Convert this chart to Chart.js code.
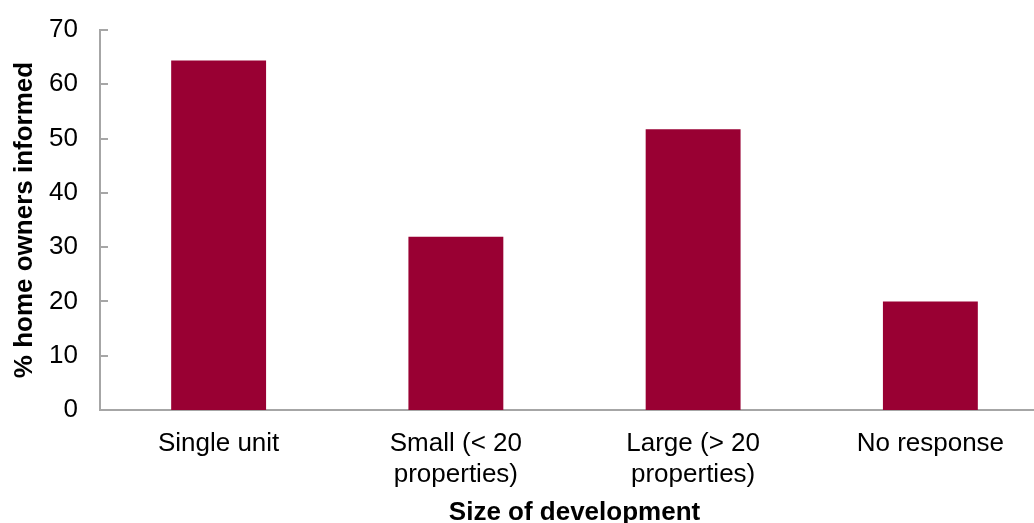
<!DOCTYPE html>
<html>
<head>
<meta charset="utf-8">
<script src="https://cdn.jsdelivr.net/npm/chart.js@4/dist/chart.umd.min.js"></script>
<style>
  html, body { margin: 0; padding: 0; background: #fff; overflow: hidden; }
  #wrap { width: 1034px; height: 523px; overflow: hidden; }
</style>
</head>
<body>
<div id="wrap"><canvas id="chart" width="1050" height="528"></canvas></div>
<script>
  "use strict";

  const categories = ["Single unit", ["Small (< 20", "properties)"], ["Large (> 20", "properties)"], "No response"];
  const informed = [64.4, 31.9, 51.7, 20.0];
  const yTicks = [0, 10, 20, 30, 40, 50, 60, 70];

  const FONT = "'Liberation Sans', Arial, sans-serif";
  const AXIS = "#a6a6a6";

  // tick marks drawn on the inside of the value axis
  const innerTicks = {
    id: "innerTicks",
    afterDraw(chart) {
      const y = chart.scales.y;
      const ctx = chart.ctx;
      ctx.save();
      ctx.strokeStyle = AXIS;
      ctx.lineWidth = 2;
      y.ticks.forEach((t) => {
        const py = Math.round(y.getPixelForValue(t.value));
        ctx.beginPath();
        ctx.moveTo(y.right, py);
        ctx.lineTo(y.right + 8, py);
        ctx.stroke();
      });
      ctx.restore();
    }
  };

  new Chart(document.getElementById("chart"), {
    type: "bar",
    data: {
      labels: categories,
      datasets: [{
        data: informed,
        backgroundColor: "#990033",
        barPercentage: 0.4,
        categoryPercentage: 1
      }]
    },
    options: {
      responsive: false,
      animation: false,
      layout: { padding: { top: 0, right: 1, bottom: 0, left: 0 } },
      plugins: { legend: { display: false }, tooltip: { enabled: false } },
      scales: {
        x: {
          afterFit: (scale) => { scale.height = 118; },
          grid: { display: false, drawTicks: false },
          border: { display: true, color: AXIS, width: 2 },
          ticks: { color: "#000", font: { family: FONT, size: 26 }, padding: 18, maxRotation: 0, autoSkip: false },
          title: {
            display: true,
            text: "Size of development",
            color: "#000",
            font: { family: FONT, size: 26, weight: "bold" },
            padding: { top: 0, bottom: 0 }
          }
        },
        y: {
          min: 0,
          max: 70,
          afterFit: (scale) => {
            scale.width = 100;
            scale.paddingTop = 30;
            scale.paddingBottom = 16;
          },
          afterBuildTicks: (scale) => { scale.ticks = yTicks.map((v) => ({ value: v })); },
          grid: { display: false, drawTicks: false },
          border: { display: true, color: AXIS, width: 2 },
          ticks: { color: "#000", font: { family: FONT, size: 26 }, padding: 22 },
          title: {
            display: true,
            text: "% home owners informed",
            color: "#000",
            font: { family: FONT, size: 26, weight: "bold" },
            padding: { top: 9, bottom: 0 }
          }
        }
      }
    },
    plugins: [innerTicks]
  });
</script>
</body>
</html>
